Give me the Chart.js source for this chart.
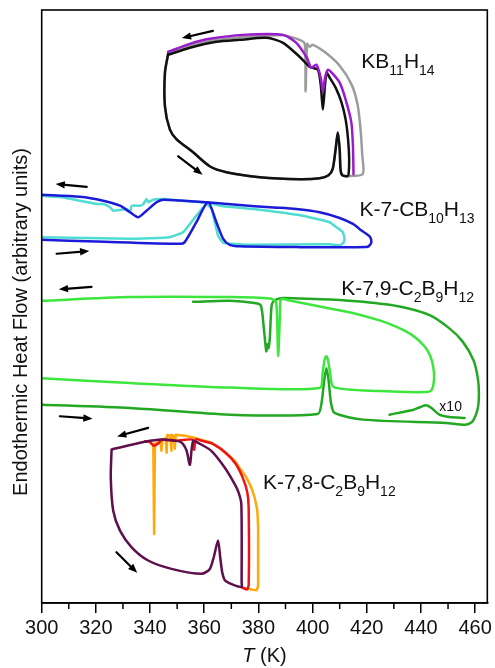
<!DOCTYPE html>
<html lang="en">
<head>
<meta charset="UTF-8" />
<title>DSC heating/cooling loops</title>
<script src="https://cdn.jsdelivr.net/npm/chart.js"></script>
<style>
  body { margin: 0; background: #ffffff; }
  canvas { display: block; }
</style>
</head>
<body>
<canvas id="dsc" width="495" height="668"></canvas>
<script>
const FONT = "'Liberation Sans', Arial, Helvetica, sans-serif";

// axis ticks (K)
const xMajor = [300, 320, 340, 360, 380, 400, 420, 440, 460];
const xMinor = [310, 330, 350, 370, 390, 410, 430, 450];

// ---- KB11H14 : [T (K), heat flow (arb.)] ----
const kbHeating = [[346.7,552],[345.5,533],[345.5,499],[347.3,476],[349.8,466],[355.9,453],[362.0,439],[368.2,433],[380.5,428],[395.2,426],[402.6,427],[405.9,430],[407.4,436],[408.5,456],[409.3,473],[410.0,456],[410.3,436],[410.9,430],[412.9,429]];
const kbBlackCooling = [[413.3,431],[413.5,446],[413.1,466],[412.2,486],[410.7,503],[408.5,518],[406.3,528],[405.2,533],[404.6,521],[403.8,496],[403.0,521],[401.9,536],[398.9,539],[395.2,549],[389.1,563],[383.0,568],[373.1,566],[364.5,564],[354.7,558],[346.7,551]];
const kbPurpleCooling = [[415.1,431],[414.9,459],[414.3,483],[412.2,506],[410.0,523],[407.4,532],[405.7,536],[404.6,528],[403.8,514],[403.0,528],[401.4,541],[399.5,538],[398.5,544],[397.7,549],[394.0,563],[389.1,571],[374.3,571],[362.0,567],[354.7,562],[346.7,554]];
const kbGrayCooling = [[418.5,431],[418.3,451],[417.7,476],[416.6,501],[414.4,521],[410.0,540],[404.4,554],[400.0,561],[398.9,559],[398.0,562],[397.4,514],[397.1,562],[395.2,566],[389.1,570.5],[380.5,570],[364.5,566],[354.7,560],[346.7,553]];

// ---- K-7-CB10H13 ----
const cbBlue = [[300,365],[320.3,363.3],[351.0,361],[352.8,362.7],[357.1,382.7],[361.4,402.7],[364.5,382.7],[367.0,366],[369.4,360],[373.1,358.5],[394.0,357.7],[419.8,357.7],[421.0,359.3],[421.7,362.7],[421.2,368],[419.8,371],[417.3,376],[414.9,381],[410.0,387],[402.6,392.7],[394.0,396],[384.2,397.7],[373.1,400],[362.0,402.5],[351.0,404.5],[344.8,405.3],[342.4,402.7],[338.7,394.3],[335.6,387.7],[332.6,392.7],[328.9,399.3],[322.7,404.3],[314.1,408.3],[300,410.3]];
const cbCyan = [[300,367.7],[332.6,366],[347.3,367.7],[352.2,372.7],[357.1,389.3],[360.8,401],[362.7,396],[365.1,369.3],[367.0,362],[375.6,360],[406.3,360.5],[410.0,359.3],[411.4,362],[411.8,366],[411.2,372.7],[408.8,377.7],[406.3,382.7],[396.4,389.3],[378.0,396],[365.7,399.3],[362.0,402],[351.0,404.5],[344.8,406],[341.1,405.3],[339.3,402.7],[338.7,406],[337.5,401],[336.2,399.3],[333.2,399.3],[332.6,392.7],[331.4,396],[328.9,395],[326.4,394.3],[325.2,397.7],[322.7,401],[320.3,401],[314.1,404.3],[306.7,408],[300,409.3]];

// ---- K-7,9-C2B9H12 ----
const c79Light = [[300,226],[332.6,221],[369.4,216.5],[402.6,216],[403.7,231],[404.4,244],[405.1,248],[405.7,244],[406.5,231],[407.8,217],[424.7,213],[441.9,212],[443.9,214],[444.8,224],[444.6,236],[443.5,248],[441.3,258],[436.9,269],[430.6,278],[424.7,284],[415.5,291],[406.3,296],[397.1,301],[391.5,304],[389.1,305.5],[388.2,304.5],[387.9,286],[387.3,248],[386.9,286],[386.4,303],[384.2,306],[369.4,307.5],[332.6,307.5],[300,303.7]];
const c79Dark = [[300,199.3],[332.6,196],[369.4,189.3],[401.9,190],[403.3,201],[404.3,224],[405.1,236],[405.9,224],[406.8,201],[408.1,191],[418.6,184.3],[449.3,181],[456.7,179.3],[459.1,182.7],[461.0,196],[461.4,211],[461.0,226],[459.4,244],[455.4,262.7],[450.5,276],[443.2,289.3],[432.1,298],[418.6,302.7],[406.3,305],[395.2,306],[389.1,306.5],[386.0,304.3],[384.9,299.3],[384.2,266],[383.7,256],[383.3,260],[382.9,253],[382.0,276],[380.9,299],[378.6,301.5],[369.4,303.7],[355.9,302.7]];
const c79Dark10 = [[428.4,189.3],[437.0,194],[439.8,197],[441.9,198.7],[443.9,196],[446.8,189.3],[450.5,187],[456.1,186]];

// ---- K-7,8-C2B9H12 ----
const c78Maroon = [[325.8,154.3],[325.5,126],[326.4,92.7],[328.9,72.7],[333.2,56],[339.3,42.7],[347.9,34.3],[359.0,29.3],[362.0,34],[363.5,46],[365.1,62.7],[365.9,46],[366.7,30],[367.9,22],[373.7,16],[373.8,21],[373.7,99.3],[372.7,111],[371.3,119.3],[367.6,136],[362.7,152.7],[358.4,160],[355.9,162.7],[354.7,139],[353.5,153],[352.1,160],[350.4,162.7],[344.2,164.3],[338.1,162],[325.8,154.3]];
const c78Red = [[373.7,16],[375.7,13.5],[376.4,18],[376.4,96],[375.9,111],[374.2,126],[371.6,140],[367.9,151],[363.2,160],[359.1,163],[356.9,164.5],[356.3,154],[355.8,164],[352.8,164],[349.1,163],[344.4,164],[342.9,160],[341.4,158],[339.9,162],[338.1,162.5]];
const c78Orange = [[374.6,15],[379.3,12.7],[379.9,17],[379.9,76],[379.6,93],[378.6,106],[377.4,116],[375.6,126],[371.3,142.7],[366.5,154],[362.7,161],[356.5,166],[352.8,168],[349.5,169],[349.1,155],[348.8,168],[348.0,169],[347.9,153],[347.5,168],[346.4,169],[346.1,151],[345.8,166],[344.5,163],[344.2,153],[343.8,162],[342.5,161],[341.8,160],[341.5,69.3],[341.2,159],[340.3,160]];

// scan direction arrows: [x tail, y tail, x head, y head]
const arrows = [
  [363.2,575, 352.1,568],
  [350.4,449, 359.1,431],
  [316.6,418.3, 305.5,421],
  [305.5,351, 317.2,353.7],
  [318.4,317.7, 306.7,315.3],
  [306.7,187.7, 318.4,185.3],
  [339.3,176, 328.2,167.7],
  [327.6,51, 335.0,31]
];

// compound names: x, baseline y, pieces [text, subscript?]
const names = [
  { x: 418.0, y: 537.7, parts: [['KB',0],['11',1],['H',0],['14',1]] },
  { x: 417.3, y: 389.3, parts: [['K-7-CB',0],['10',1],['H',0],['13',1]] },
  { x: 410.6, y: 309.3, parts: [['K-7,9-C',0],['2',1],['B',0],['9',1],['H',0],['12',1]] },
  { x: 381.7, y: 114.3, parts: [['K-7,8-C',0],['2',1],['B',0],['9',1],['H',0],['12',1]] }
];
const scaleNote = { x: 446.8, y: 192.7, text: 'x10' };

function pts(a) { return a.map(p => ({ x: p[0], y: p[1] })); }

// back to front
const series = [
  { data: kbHeating.concat(kbGrayCooling), color: '#9c9c9c' },
  { data: kbHeating.concat(kbBlackCooling), color: '#111111' },
  { data: kbPurpleCooling, color: '#9a1ccc' },
  { data: cbCyan, color: '#4fdcd2', tension: 0.1 },
  { data: cbBlue, color: '#1c1cd8' },
  { data: c79Dark, color: '#22a822' },
  { data: c79Dark10, color: '#22a822' },
  { data: c79Light, color: '#3de63d' },
  { data: c78Orange, color: '#ffa80a', tension: 0 },
  { data: c78Red, color: '#ee1414' },
  { data: c78Maroon, color: '#5e0f4c' }
];

const datasets = series.map((s, i) => ({
  data: pts(s.data),
  borderColor: s.color,
  borderWidth: 2.5,
  showLine: true,
  pointRadius: 0,
  tension: s.tension === undefined ? 0.25 : s.tension,
  borderJoinStyle: 'round',
  borderCapStyle: 'round',
  order: series.length - i
}));

const decorations = {
  id: 'decorations',
  afterDraw(chart) {
    const { ctx, chartArea: a, scales: { x, y } } = chart;
    ctx.save();

    // frame
    ctx.strokeStyle = '#000';
    ctx.lineWidth = 1.6;
    ctx.strokeRect(a.left, a.top, a.right - a.left, a.bottom - a.top);

    // minor ticks
    ctx.lineWidth = 1.5;
    xMinor.forEach(v => {
      const px = x.getPixelForValue(v);
      ctx.beginPath();
      ctx.moveTo(px, a.bottom);
      ctx.lineTo(px, a.bottom + 6);
      ctx.stroke();
    });

    // arrows with small solid heads
    ctx.lineWidth = 2.2;
    ctx.lineCap = 'round';
    ctx.fillStyle = '#000';
    arrows.forEach(r => {
      const x1 = x.getPixelForValue(r[0]), y1 = y.getPixelForValue(r[1]);
      const x2 = x.getPixelForValue(r[2]), y2 = y.getPixelForValue(r[3]);
      const ang = Math.atan2(y2 - y1, x2 - x1);
      const bx = x2 - 6 * Math.cos(ang), by = y2 - 6 * Math.sin(ang);
      ctx.beginPath();
      ctx.moveTo(x1, y1);
      ctx.lineTo(bx, by);
      ctx.stroke();
      ctx.beginPath();
      ctx.moveTo(x2 + Math.cos(ang), y2 + Math.sin(ang));
      ctx.lineTo(x2 - 9 * Math.cos(ang - 0.42), y2 - 9 * Math.sin(ang - 0.42));
      ctx.lineTo(x2 - 9 * Math.cos(ang + 0.42), y2 - 9 * Math.sin(ang + 0.42));
      ctx.closePath();
      ctx.fill();
    });

    // compound names
    ctx.fillStyle = '#111';
    ctx.textBaseline = 'alphabetic';
    ctx.textAlign = 'left';
    names.forEach(n => {
      let cx = x.getPixelForValue(n.x);
      const base = y.getPixelForValue(n.y);
      n.parts.forEach(([t, sub]) => {
        ctx.font = (sub ? '14px ' : '21px ') + FONT;
        ctx.fillText(t, cx, sub ? base + 7 : base);
        cx += ctx.measureText(t).width;
      });
    });
    ctx.font = '14px ' + FONT;
    ctx.fillText(scaleNote.text, x.getPixelForValue(scaleNote.x), y.getPixelForValue(scaleNote.y));

    // axis titles
    ctx.font = '20px ' + FONT;
    ctx.textBaseline = 'middle';
    ctx.textAlign = 'center';
    ctx.save();
    ctx.translate(21, 322);
    ctx.rotate(-Math.PI / 2);
    ctx.fillText('Endothermic Heat Flow (arbitrary units)', 0, 0);
    ctx.restore();

    const cx = (a.left + a.right) / 2;
    ctx.textAlign = 'left';
    ctx.font = 'italic 20px ' + FONT;
    const wT = ctx.measureText('T').width;
    ctx.font = '20px ' + FONT;
    const wR = ctx.measureText(' (K)').width;
    let sx = cx - (wT + wR) / 2;
    ctx.font = 'italic 20px ' + FONT;
    ctx.fillText('T', sx, 656);
    ctx.font = '20px ' + FONT;
    ctx.fillText(' (K)', sx + wT, 656);

    ctx.restore();
  }
};

new Chart(document.getElementById('dsc'), {
  type: 'scatter',
  data: { datasets },
  options: {
    responsive: false,
    animation: false,
    events: [],
    layout: { padding: { left: 41.7, top: 10, right: 7, bottom: 0 } },
    plugins: { legend: { display: false }, tooltip: { enabled: false } },
    scales: {
      x: {
        type: 'linear',
        min: 300,
        max: 464.5,
        afterBuildTicks: s => { s.ticks = xMajor.map(v => ({ value: v })); },
        ticks: { color: '#111', padding: 3, font: { family: FONT, size: 20 } },
        grid: { drawOnChartArea: false, drawTicks: true, tickLength: 10, color: '#000', lineWidth: 1.5 },
        border: { display: true, color: '#000', width: 1.6 },
        title: { display: true, text: 'T (K)', color: 'rgba(0,0,0,0)', padding: { top: 0, bottom: 1 }, font: { family: FONT, size: 20 } }
      },
      y: { display: false, min: 0, max: 596 }
    }
  },
  plugins: [decorations]
});
</script>
</body>
</html>
